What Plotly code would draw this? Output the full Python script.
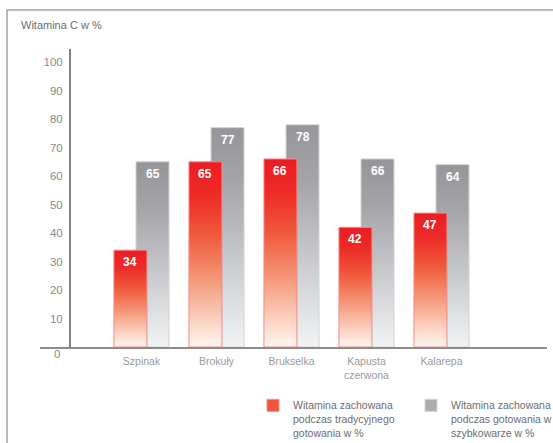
import plotly.graph_objects as go

# ---- data ----
categories = ["Szpinak", "Brokuły", "Brukselka", "Kapusta<br>czerwona", "Kalarepa"]
traditional = [34, 65, 66, 42, 47]
pressure = [65, 77, 78, 66, 64]
series_names = [
    "Witamina zachowana<br>podczas tradycyjnego<br>gotowania w %",
    "Witamina zachowana<br>podczas gotowania w<br>szybkowarze w %",
]
y_ticks = [10, 20, 30, 40, 50, 60, 70, 80, 90, 100]
y_zero_label = "0"
y_title = "Witamina C w %"

# ---- styling ----
FONT = "Liberation Sans, Arial, sans-serif"
RED_SCALE = [[0.0, "#FFF6F2"], [0.12, "#FCD9C9"], [0.35, "#F59C7D"],
             [0.6, "#F05A3C"], [0.82, "#ED2B28"], [1.0, "#EC1C24"]]
GRAY_SCALE = [[0.0, "#F3F4F5"], [0.15, "#E2E3E5"], [0.45, "#C3C4C7"],
              [0.75, "#A5A5A9"], [1.0, "#96969A"]]
W = 0.44          # bar width in category units
RED_OFF = -0.367  # left edge offset of red bar
GRAY_OFF = -0.073 # left edge offset of gray bar

fig = go.Figure()


def bar_poly(i, v, off, scale, line_color):
    x0 = i + off
    x1 = x0 + W
    return go.Scatter(
        x=[x0, x1, x1, x0, x0], y=[0, 0, v, v, 0],
        mode="lines", fill="toself",
        fillgradient=dict(type="vertical", colorscale=scale),
        line=dict(color=line_color, width=1),
        showlegend=False, hoverinfo="skip",
    )


# gray (behind)
for i, v in enumerate(pressure):
    fig.add_trace(bar_poly(i, v, GRAY_OFF, GRAY_SCALE, "#D2D2D4"))
# red (front)
for i, v in enumerate(traditional):
    fig.add_trace(bar_poly(i, v, RED_OFF, RED_SCALE, "#F38A8A"))

# legend entries
fig.add_trace(go.Bar(x=[None], y=[None], name=series_names[0],
                     marker=dict(color="#F0553C", line=dict(color="#F38A8A", width=1))))
fig.add_trace(go.Bar(x=[None], y=[None], name=series_names[1],
                     marker=dict(color="#ACACB0", line=dict(color="#D2D2D4", width=1))))

# value labels
idx = list(range(len(categories)))
annotations = []
for vals, off in ((traditional, RED_OFF), (pressure, GRAY_OFF)):
    for i, v in enumerate(vals):
        annotations.append(dict(
            x=i + off + W / 2, y=v, xref="x", yref="y", text=str(v),
            showarrow=False, xanchor="center", yanchor="top", yshift=-3,
            font=dict(family=FONT, size=12, color="white", weight="bold")))

annotations.append(dict(text=y_title, xref="paper", yref="paper",
                        x=(19 - 40) / 507, y=(347 - 25) / 298,
                        xanchor="left", yanchor="middle", showarrow=False,
                        font=dict(family=FONT, size=11, color="#6d6d6d")))
# zero tick label sits below the baseline
annotations.append(dict(text=y_zero_label, xref="paper", yref="y",
                        x=(62 - 40) / 507, y=0, yshift=-7,
                        xanchor="right", yanchor="middle", showarrow=False,
                        font=dict(family=FONT, size=11.5, color="#8a8a8a")))

fig.update_layout(
    width=553, height=443,
    margin=dict(l=40, r=6, t=49, b=96, autoexpand=False),
    paper_bgcolor="white", plot_bgcolor="white",
    font=dict(family=FONT, color="#8a8a8a"),
    showlegend=True,
    legend=dict(orientation="h", x=(253 - 40) / 507, xanchor="left",
                y=(347 - 392) / 298, yanchor="top", valign="top",
                entrywidth=113, entrywidthmode="pixels",
                font=dict(family=FONT, size=10.5, color="#6d6d6d"),
                bgcolor="rgba(0,0,0,0)"),
    xaxis=dict(range=[-1.353, 5.407], tickvals=idx, ticktext=categories,
               showgrid=False, zeroline=False, showline=True,
               linecolor="#8c8c8c", linewidth=1.5, ticks="",
               ticklabelstandoff=4,
               tickfont=dict(family=FONT, size=10.5, color="#9a9a9a"),
               fixedrange=True, automargin=False),
    yaxis=dict(range=[0, 104.6], tickvals=y_ticks, anchor="free",
               position=30 / 507, showgrid=False, zeroline=False,
               showline=True, linecolor="#808086", linewidth=2, ticks="",
               ticklabelstandoff=4, automargin=False,
               tickfont=dict(family=FONT, size=11.5, color="#8a8a8a"),
               fixedrange=True),
    shapes=[dict(type="rect", xref="paper", yref="paper",
                 x0=(7 - 40) / 507, x1=(570 - 40) / 507,
                 y0=(347 - 460) / 298, y1=(347 - 10) / 298,
                 line=dict(color="#A3A3A3", width=1.5), layer="above")],
    annotations=annotations,
)

fig.write_html("out.html")
